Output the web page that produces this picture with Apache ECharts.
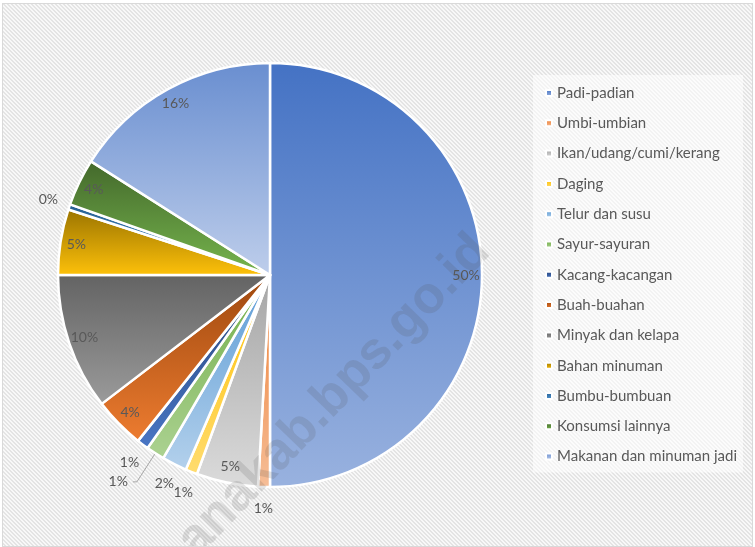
<!DOCTYPE html>
<html>
<head>
<meta charset="utf-8">
<script src="https://cdn.jsdelivr.net/npm/echarts@6/dist/echarts.min.js"></script>
<style>
html, body { margin: 0; padding: 0; background: #fff; }
#chart { position: absolute; left: 2px; top: 3px; width: 749px; height: 542px; border: 1px solid #d9d9d9; }
</style>
</head>
<body>
<div id="chart"></div>
<script>
// komposisi pengeluaran makanan (persen)
const categories = ['Padi-padian', 'Umbi-umbian', 'Ikan/udang/cumi/kerang', 'Daging', 'Telur dan susu',
  'Sayur-sayuran', 'Kacang-kacangan', 'Buah-buahan', 'Minyak dan kelapa', 'Bahan minuman',
  'Bumbu-bumbuan', 'Konsumsi lainnya', 'Makanan dan minuman jadi'];
const shares = [50.0, 0.9, 4.7, 0.9, 1.9, 1.4, 0.9, 3.9, 10.4, 5.0, 0.4, 3.6, 16.0];

const palette = ['#4472C4', '#ED7D31', '#A5A5A5', '#FFC000', '#5B9BD5', '#70AD47', '#264478',
  '#9E480E', '#636363', '#997300', '#255E91', '#43682B', '#698ED0'];
// where each percentage label goes: 'in' inside the slice, 'out' just outside, 'line' with a leader line
const labelPlace = ['in', 'out', 'in', 'out', 'out', 'line', 'out', 'in', 'in', 'in', 'out', 'in', 'in'];

const hexToHsl = hex => {
  const r = parseInt(hex.slice(1, 3), 16) / 255, g = parseInt(hex.slice(3, 5), 16) / 255, b = parseInt(hex.slice(5, 7), 16) / 255;
  const max = Math.max(r, g, b), min = Math.min(r, g, b);
  let h = 0, s = 0;
  const l = (max + min) / 2;
  if (max !== min) {
    const d = max - min;
    s = l > 0.5 ? d / (2 - max - min) : d / (max + min);
    if (max === r) h = (g - b) / d + (g < b ? 6 : 0);
    else if (max === g) h = (b - r) / d + 2;
    else h = (r - g) / d + 4;
    h /= 6;
  }
  return [h, s, l];
};
const hslToHex = (h, s, l) => {
  const f = n => {
    const k = (n + h * 12) % 12;
    const a = s * Math.min(l, 1 - l);
    const c = l - a * Math.max(-1, Math.min(k - 3, 9 - k, 1));
    return Math.round(c * 255).toString(16).padStart(2, '0');
  };
  return '#' + f(0) + f(8) + f(4);
};
const gradientOf = hex => {
  const [h, s, l] = hexToHsl(hex);
  return new echarts.graphic.LinearGradient(0, 0, 0, 1, [
    {offset: 0, color: hex},
    {offset: 1, color: hslToHex(h, s, Math.min(l + 0.22, 0.86))}
  ]);
};

// striped backdrop like the spreadsheet chart area
const tile = document.createElement('canvas');
tile.width = 4;
tile.height = 4;
const tctx = tile.getContext('2d');
for (let x = 0; x < 4; x++) {
  for (let y = 0; y < 4; y++) {
    tctx.fillStyle = ((x - y + 8) % 4) < 2 ? '#e4e4e4' : '#f8f8f8';
    tctx.fillRect(x, y, 1, 1);
  }
}

const center = [267, 271];
const pctLabel = p => Math.round(p.percent) + '%';
const labelFont = {fontFamily: 'Lato', fontSize: 14, color: '#595959'};

const mainData = categories.map((name, i) => ({
  name,
  value: shares[i],
  itemStyle: {color: gradientOf(palette[i])},
  label: labelPlace[i] === 'line' ? {show: true, position: 'outside'} : {show: false},
  labelLine: {show: labelPlace[i] === 'line'}
}));
const ringData = place => categories.map((name, i) => ({
  name,
  value: shares[i],
  label: {show: labelPlace[i] === place}
}));

const chart = echarts.init(document.getElementById('chart'));
chart.setOption({
  animation: false,
  backgroundColor: {image: tile, repeat: 'repeat'},
  legend: {
    orient: 'vertical',
    left: 530,
    top: 71,
    padding: [10, 6, 8, 12],
    backgroundColor: 'rgba(255,255,255,0.55)',
    icon: 'rect',
    itemWidth: 6,
    itemHeight: 6,
    itemGap: 14.3,
    selectedMode: false,
    textStyle: {fontFamily: 'Lato', fontSize: 15, color: '#595959', lineHeight: 16},
    data: categories
  },
  graphic: [{
    type: 'text',
    x: 331,
    y: 392,
    rotation: 46 * Math.PI / 180,
    z: 100,
    silent: true,
    style: {
      text: 'anakab.bps.go.id',
      font: 'bold 52px "Liberation Sans"',
      fill: 'rgba(80,80,80,0.16)',
      align: 'center',
      verticalAlign: 'middle'
    }
  }],
  series: [
    {
      type: 'pie',
      center,
      radius: 212,
      startAngle: 90,
      clockwise: true,
      avoidLabelOverlap: false,
      itemStyle: {borderColor: '#fff', borderWidth: 2.5},
      label: Object.assign({formatter: pctLabel}, labelFont),
      labelLine: {length: 34, length2: 4, smooth: false, lineStyle: {color: '#a6a6a6', width: 1}},
      labelLayout: {hideOverlap: false},
      emphasis: {disabled: true},
      data: mainData
    },
    {
      type: 'pie',
      center,
      radius: [174, 212],
      startAngle: 90,
      silent: true,
      avoidLabelOverlap: false,
      itemStyle: {color: 'rgba(0,0,0,0)'},
      label: Object.assign({position: 'inside', formatter: pctLabel}, labelFont),
      labelLine: {show: false},
      labelLayout: {hideOverlap: false},
      emphasis: {disabled: true},
      data: ringData('in')
    },
    {
      type: 'pie',
      center,
      radius: [222, 240],
      startAngle: 90,
      silent: true,
      avoidLabelOverlap: false,
      itemStyle: {color: 'rgba(0,0,0,0)'},
      label: Object.assign({position: 'inside', formatter: pctLabel}, labelFont),
      labelLine: {show: false},
      labelLayout: {hideOverlap: false},
      emphasis: {disabled: true},
      data: ringData('out')
    }
  ]
});
</script>
</body>
</html>
